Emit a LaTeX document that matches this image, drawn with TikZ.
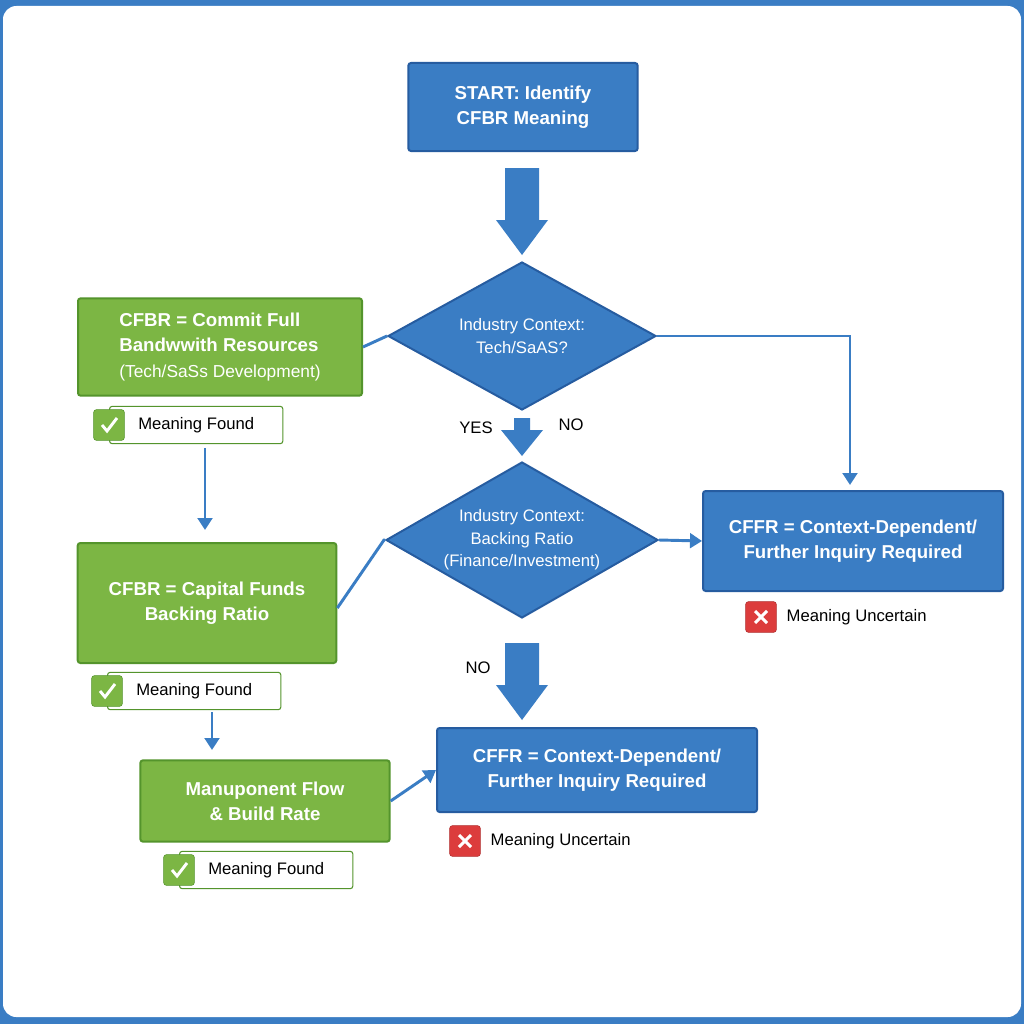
\documentclass[tikz,border=0pt]{standalone}
\usepackage{fontspec}
\setmainfont{Liberation Sans}
\usetikzlibrary{shapes.geometric,arrows.meta,calc}
\definecolor{bluefill}{RGB}{58,125,196}
\definecolor{blueline}{RGB}{38,92,160}
\definecolor{greenfill}{RGB}{124,182,68}
\definecolor{greenline}{RGB}{84,148,44}
\definecolor{crossred}{RGB}{220,60,60}
\tikzset{
  bluebox/.style={draw=blueline,line width=1.5pt,fill=bluefill,rounded corners=2pt,text=white,font=\fontsize{14}{19}\selectfont\bfseries,align=center},
  greenbox/.style={draw=greenline,line width=1.5pt,fill=greenfill,rounded corners=2pt,text=white,font=\fontsize{14}{19}\selectfont\bfseries},
  decision/.style={diamond,aspect=1.8,draw=blueline,line width=1.5pt,fill=bluefill,text=white,font=\fontsize{12.5}{17}\selectfont,align=center,inner sep=0pt},
  badge/.style={draw=greenline,line width=0.8pt,fill=white,rounded corners=2pt,font=\fontsize{12.5}{15}\selectfont,anchor=west,minimum height=28pt,inner xsep=10pt},
  tick/.style={fill=greenfill,draw=greenline,rounded corners=2pt,minimum size=23pt},
  cross/.style={fill=crossred,rounded corners=2pt,minimum size=23pt,draw=crossred!80!black},
  flow/.style={draw=bluefill,line width=2.2pt,-{Triangle[length=9pt,width=11pt]}},
  link/.style={draw=bluefill,line width=2.2pt},
  lbl/.style={font=\fontsize{12.5}{15}\selectfont}
}
\newcommand{\tickmark}[1]{\draw[white,line width=2.2pt] ($(#1)+(-7,0)$) -- ($(#1)+(-2,6)$) -- ($(#1)+(8,-7)$);}
\newcommand{\crossmark}[1]{\draw[white,line width=2.2pt] ($(#1)+(-6,-6)$) -- ($(#1)+(6,6)$) ($(#1)+(-6,6)$) -- ($(#1)+(6,-6)$);}
\newcommand{\bigdown}[3]{\fill[bluefill] (#1-17,#2) -- (#1+17,#2) -- (#1+17,#3-35) -- (#1+26,#3-35) -- (#1,#3) -- (#1-26,#3-35) -- (#1-17,#3-35) -- cycle;}
\begin{document}
\begin{tikzpicture}[x=0.75pt,y=0.75pt,yscale=-1,xscale=1]
\useasboundingbox (0,0) rectangle (1024,1024);
% frame
\fill[bluefill] (0,0) rectangle (1024,1024);
\fill[white,rounded corners=10pt] (3,6) rectangle (1021,1017);

% boxes
\node[bluebox,minimum width=172pt,minimum height=66pt] (start) at (523,107) {START: Identify\\CFBR Meaning};
\node[decision,minimum width=201pt,minimum height=111pt] (dtech) at (522,336) {Industry Context:\\Tech/SaAS?};
\node[decision,minimum width=204pt,minimum height=117pt] (dback) at (522,540) {Industry Context:\\Backing Ratio\\(Finance/Investment)};
\node[greenbox,align=left,minimum width=213pt,minimum height=73pt] (commit) at (220,347) {CFBR = Commit Full\\Bandwwith Resources\\{\fontsize{13}{19}\selectfont\mdseries(Tech/SaSs Development)}};
\node[greenbox,align=center,minimum width=194pt,minimum height=90pt] (capital) at (207,603) {CFBR = Capital Funds\\Backing Ratio};
\node[greenbox,align=center,minimum width=187pt,minimum height=61pt] (flow) at (265,801) {Manuponent Flow\\\& Build Rate};
\node[bluebox,minimum width=225pt,minimum height=75pt] (inquiry) at (853,541) {CFFR = Context-Dependent/\\Further Inquiry Required};
\node[bluebox,minimum width=240pt,minimum height=63pt] (uncertain) at (597,770) {CFFR = Context-Dependent/\\Further Inquiry Required};

% badges
\node[badge,minimum width=130pt] (foundA) at (109,425) {Meaning Found};
\node[tick] (tickA) at (109,425) {};
\tickmark{tickA}
\node[badge,minimum width=130pt] (foundB) at (107,691) {Meaning Found};
\node[tick] (tickB) at (107,691) {};
\tickmark{tickB}
\node[badge,minimum width=130pt] (foundC) at (179,870) {Meaning Found};
\node[tick] (tickC) at (179,870) {};
\tickmark{tickC}
\node[cross] (crossA) at (761,617) {};
\crossmark{crossA}
\node[lbl,anchor=west] (uncA) at (782,617) {Meaning Uncertain};
\node[cross] (crossB) at (465,841) {};
\crossmark{crossB}
\node[lbl,anchor=west] (uncB) at (486,841) {Meaning Uncertain};

% labels
\node[lbl] (yes) at (476,428) {YES};
\node[lbl] (noA) at (571,425) {NO};
\node[lbl] (noB) at (478,668) {NO};

% connectors
\bigdown{522}{168}{255}
\fill[bluefill] (514,418) -- (530,418) -- (530,430) -- (543,430) -- (522,456) -- (501,430) -- (514,430) -- cycle;
\bigdown{522}{643}{720}
\draw[link] (dtech.west) -- (commit.east);
\draw[flow] (dtech.east) -- (850,336) -- (850,485);
\draw[flow] (dback.east) -- (inquiry.west);
\draw[link] (capital.east) ++(0,5) -- (384,540) -- (dback.west);
\draw[flow] (205,448) -- (205,530);
\draw[flow] (212,712) -- (212,750);
\draw[flow] (flow.east) -- (uncertain.west);
\end{tikzpicture}
\end{document}
